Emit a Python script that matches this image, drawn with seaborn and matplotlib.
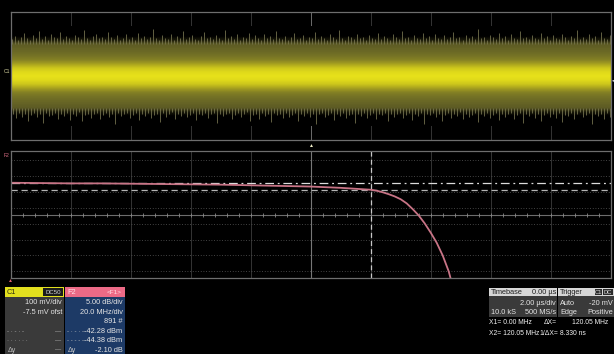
import numpy as np
import matplotlib
matplotlib.use("Agg")
import matplotlib.pyplot as plt
import seaborn as sns
from matplotlib.colors import LinearSegmentedColormap
from matplotlib.patches import Rectangle
from matplotlib.ticker import MultipleLocator

# ---------------- data ----------------
# C1 (time domain, 100 mV/div, 2 us/div): persistence brightness per 0.25 div, -3 .. +3 div
c1_band_profile = [0.0, 0.0, 0.0, 0.12, 0.42, 0.46, 0.5, 0.54, 0.6, 0.72, 0.88, 0.97, 1.0,
                   0.97, 0.88, 0.72, 0.6, 0.54, 0.5, 0.46, 0.42, 0.12, 0.0, 0.0, 0.0]
c1_upper_peaks_mv = [
    232, 251, 226, 244, 268, 238, 229, 257, 241, 284, 235, 249, 227, 262, 243, 236, 275, 231, 254, 240,
    228, 259, 245, 233, 290, 239, 226, 252, 266, 237, 243, 230, 279, 248, 234, 256, 229, 241, 263, 235,
    247, 227, 271, 238, 253, 231, 244, 296, 236, 229, 258, 242, 233, 267, 227, 250, 239, 282, 232, 245,
    260, 234, 228, 249, 274, 237, 243, 231, 255, 240, 227, 288, 236, 251, 233, 262, 229, 246, 238, 270,
    231, 256, 242, 228, 265, 237, 249, 230, 281, 239, 234, 253, 226, 244, 269, 235, 241, 258, 229, 247,
    236, 278, 232, 250, 240, 227, 263, 245, 233, 292, 238, 229, 254, 243, 231, 266, 237, 248, 228, 259,
    242, 230, 273, 235, 252, 239, 227, 261, 246, 233, 285, 236, 244, 229, 257, 240, 232, 270, 238, 249,
    228, 264, 241, 234, 255, 230, 247, 276, 236, 243, 229, 260, 237, 251, 232, 298, 239, 245, 227, 258,
    243, 231, 268, 238, 250, 229, 262, 241, 234, 280, 236, 247, 230, 256, 242, 233, 272, 237, 253, 228,
    259, 240, 232, 266, 245, 229, 251, 238, 287, 234, 243, 230, 261, 237, 249, 228, 274, 241, 235, 255]
c1_lower_peaks_mv = [
    240, 262, 231, 255, 236, 279, 244, 228, 258, 237, 293, 233, 248, 241, 229, 267, 238, 252, 230, 273,
    236, 249, 227, 284, 242, 234, 260, 239, 231, 271, 245, 229, 256, 237, 300, 233, 247, 240, 228, 264,
    243, 232, 277, 238, 251, 229, 262, 244, 235, 289, 231, 254, 240, 227, 268, 236, 249, 233, 258, 242,
    229, 275, 237, 246, 231, 263, 240, 228, 296, 235, 252, 239, 230, 270, 244, 233, 257, 238, 227, 282,
    241, 234, 266, 229, 250, 238, 286, 232, 245, 236, 261, 228, 254, 242, 231, 278, 237, 247, 230, 259,
    235, 302, 240, 229, 256, 244, 233, 272, 237, 249, 228, 265, 241, 234, 291, 236, 252, 230, 260, 243,
    231, 269, 238, 246, 229, 283, 235, 253, 240, 228, 262, 244, 232, 276, 237, 250, 229, 297, 239, 245,
    230, 258, 236, 281, 242, 231, 264, 239, 248, 227, 271, 234, 255, 241, 229, 288, 237, 251, 233, 262,
    244, 228, 274, 235, 257, 240, 232, 266, 246, 230, 293, 238, 249, 229, 260, 236, 279, 242, 231, 254,
    237, 263, 229, 285, 241, 250, 233, 270, 238, 227, 259, 245, 232, 298, 236, 248, 240, 267, 230, 256]

# F2 = FFT(F1) magnitude, 5 dB/div, 20 MHz/div
f2_freq_mhz = [0, 10, 20, 30, 40, 50, 60, 70, 80, 90, 100, 105, 110, 115, 120, 122, 124, 126,
               128, 130, 132, 134, 136, 138, 140, 142, 144, 146, 147]
f2_level_dbm = [-42.1, -42.2, -42.3, -42.3, -42.4, -42.5, -42.6, -42.7, -42.9, -43.1, -43.3, -43.5,
                -43.7, -44.0, -44.3, -44.6, -45.1, -45.7, -46.4, -47.3, -48.6, -50.4, -52.4,
                -54.9, -57.8, -61.0, -65.0, -70.0, -73.5]
cursor_levels_dbm = [-42.28, -44.38]
cursor_freqs_mhz = [0.0, 120.05]

# annotation texts
c1_header = ["C1", "DC50"]
c1_rows = ["100 mV/div", "-7.5 mV ofst"]
f2_header = ["F2", "<F1>"]
f2_rows = ["5.00 dB/div", "20.0 MHz/div", "891 #", "-42.28 dBm", "-44.38 dBm", "-2.10 dB"]
timebase_txt = ["Timebase", "0.00 µs", "2.00 µs/div", "10.0 kS", "500 MS/s"]
trigger_txt = ["Trigger", "C1", "DC", "Auto", "-20 mV", "Edge", "Positive"]
cursor_txt = ["X1= 0.00 MHz", "ΔX=", "120.05 MHz", "X2= 120.05 MHz", "1/ΔX=", "8.330 ns"]

# ---------------- style ----------------
sns.set_style("dark", {"axes.facecolor": "black", "figure.facecolor": "black"})
plt.rcParams['font.family'] = ['Liberation Sans', 'DejaVu Sans']

W, H = 614, 354
fig = plt.figure(figsize=(W / 100, H / 100), dpi=100)
fig.patch.set_facecolor("black")


def style_axes(ax, xmaj, ymaj):
    ax.set_facecolor("black")
    ax.xaxis.set_major_locator(MultipleLocator(xmaj))
    ax.yaxis.set_major_locator(MultipleLocator(ymaj))
    ax.tick_params(length=0, labelbottom=False, labelleft=False)
    ax.xaxis.grid(True, color="#3c3c3c", lw=0.6, ls="-", zorder=0.5)
    ax.yaxis.grid(True, color="#5a5a5a", lw=0.6, ls=(0, (1, 2.2)), zorder=0.5)
    ax.set_axisbelow(True)
    for s in ax.spines.values():
        s.set_color("#6e6e6e")
        s.set_linewidth(0.9)
        s.set_zorder(5)
    ax.set_xlabel("")
    ax.set_ylabel("")


# ---------------- top: C1 noise ----------------
ax1 = fig.add_axes([10.7 / W, 1 - 140 / H, 600 / W, 127.7 / H])
cmap = LinearSegmentedColormap.from_list(
    "scope", [(0, "#000000"), (0.2, "#2a2910"), (0.42, "#5c5a24"), (0.5, "#6c6a26"),
              (0.6, "#868224"), (0.75, "#b0aa1e"), (1.0, "#e6e01a")])
prof = np.array(c1_band_profile)
ax1.imshow(np.column_stack([prof, prof]), extent=[-10, 10, -312.5, 312.5], aspect="auto",
           cmap=cmap, vmin=0, vmax=1, interpolation="bilinear", zorder=1)
tu = np.linspace(-9.97, 9.97, len(c1_upper_peaks_mv))
tl = np.linspace(-9.94, 9.99, len(c1_lower_peaks_mv))
ax1.vlines(tu, 200, c1_upper_peaks_mv, colors="#7c7a54", lw=0.55, zorder=2)
ax1.vlines(tl, -200, -np.array(c1_lower_peaks_mv), colors="#7c7a54", lw=0.55, zorder=2)
ax1.set_xlim(-10, 10)
ax1.set_ylim(-400, 400)
style_axes(ax1, 2, 100)
ax1.axvline(0, color="#6a6a6a", lw=0.7, zorder=0.6)

# ---------------- bottom: F2 FFT ----------------
ax2 = fig.add_axes([10.7 / W, 1 - 278 / H, 600 / W, 127 / H])
ax2.set_xlim(0, 200)
ax2.set_ylim(-72.1, -32.1)
style_axes(ax2, 20, 5)
center_db = -52.1
ax2.axhline(center_db, color="#6c6c6c", lw=0.8, zorder=2)
ax2.axvline(100, color="#777777", lw=0.8, zorder=2)
ax2.plot(np.arange(0, 201, 4), np.full(51, center_db), ls="none", marker="|", ms=2.6,
         mew=0.6, color="#8a8a8a", zorder=2)
ax2.axhline(cursor_levels_dbm[0], color="#dcdcdc", lw=0.9, ls=(0, (7, 3, 1.5, 3)), zorder=3)
ax2.axhline(cursor_levels_dbm[1], color="#b4b4b4", lw=0.9, ls=(0, (5, 3)), zorder=3)
ax2.axvline(cursor_freqs_mhz[1], color="#c8c8c8", lw=0.9, ls=(0, (4, 2.5)), zorder=3)
sns.lineplot(x=f2_freq_mhz, y=f2_level_dbm, ax=ax2, color="#c87486", lw=1.3, zorder=4,
             estimator=None, sort=False)
ax2.set_xlabel("")
ax2.set_ylabel("")

# ---------------- overlay: readouts ----------------
ov = fig.add_axes([0, 0, 1, 1])
ov.set_xlim(0, W)
ov.set_ylim(H, 0)
ov.axis("off")
ov.patch.set_alpha(0)


def box(x0, y0, x1, y1, color):
    ov.add_patch(Rectangle((x0, y0), x1 - x0, y1 - y0, facecolor=color, edgecolor="none"))


def txt(x, y, s, color="#e4e4e4", ha="left", size=5.3):
    ov.text(x, y, s, color=color, ha=ha, va="center", fontsize=size)


# channel labels / markers
txt(3.5, 71.5, "C1", color="#d8d6a0", size=3.6)
txt(3.5, 155.5, "F2", color="#e07088", size=3.6)
txt(311, 145.5, "▲", color="#f0eec8", ha="center", size=3.6)
txt(10.5, 280.5, "▲", color="#e06070", ha="center", size=3.6)
txt(612.5, 80.5, "◄", color="#e0e0e0", ha="center", size=3.2)

# C1 box
box(5, 287, 63.5, 297, "#e2df1e")
box(43, 288.3, 63, 295.8, "#1c1c1c")
txt(7, 292.2, c1_header[0], color="#303010", size=5.3)
txt(53, 292.2, c1_header[1], color="#d8d8d8", ha="center", size=4.4)
box(5, 297, 63.5, 354, "#3a3a3a")
txt(62, 303, c1_rows[0], ha="right")
txt(62, 312, c1_rows[1], ha="right")
txt(7, 331.7, "- · - · -", color="#bdbdbd", size=4.4)
txt(7, 340.7, "· · · · · ·", color="#bdbdbd", size=4.4)
txt(8, 350, "Δy", color="#bdbdbd", size=5.0)
for yy in (331.7, 340.7, 350):
    txt(61, yy, "—", color="#bdbdbd", ha="right", size=4.4)

# F2 box
box(64.5, 287, 124.5, 297, "#ec6a86")
txt(67, 292.2, f2_header[0], color="#ffe0e6")
txt(114, 292.2, f2_header[1], color="#ffe0e6", ha="center", size=4.6)
box(64.5, 297, 124.5, 354, "#1d3a66")
for yy, s in zip((303, 312, 321.7, 331.7, 340.7, 350), f2_rows):
    txt(122.5, yy, s, ha="right")
txt(67, 331.7, "- · - · -", color="#c8c8c8", size=4.4)
txt(67, 340.7, "- - - - -", color="#c8c8c8", size=4.4)
txt(68, 350, "Δy", color="#c8c8c8", size=5.0)

# Timebase box
box(489, 288, 557, 296, "#d6d6d6")
txt(491, 292, timebase_txt[0], color="#1e1e1e")
txt(556, 292, timebase_txt[1], color="#1e1e1e", ha="right")
box(489, 296, 557, 317, "#3a3a3a")
txt(556, 303.5, timebase_txt[2], ha="right")
txt(491, 312.3, timebase_txt[3])
txt(556, 312.3, timebase_txt[4], ha="right")

# Trigger box
box(558, 288, 614, 296, "#d6d6d6")
txt(560, 292, trigger_txt[0], color="#1e1e1e")
box(594.5, 288.6, 602, 295.4, "#2a2a2a")
box(602.8, 288.6, 613, 295.4, "#2a2a2a")
txt(598.2, 292, trigger_txt[1], color="#e0e0e0", ha="center", size=4.2)
txt(607.9, 292, trigger_txt[2], color="#e0e0e0", ha="center", size=4.2)
box(558, 296, 614, 317, "#3a3a3a")
txt(560, 303.5, trigger_txt[3])
txt(613, 303.5, trigger_txt[4], ha="right")
txt(560, 312.3, trigger_txt[5])
txt(613, 312.3, trigger_txt[6], ha="right")

# cursor readouts
cs = 4.9
txt(489, 323, cursor_txt[0], color="#f0f0f0", size=cs)
txt(557, 323, cursor_txt[1], color="#f0f0f0", ha="right", size=cs)
txt(608, 323, cursor_txt[2], color="#f0f0f0", ha="right", size=cs)
txt(489, 333.3, cursor_txt[3], color="#f0f0f0", size=cs)
txt(558, 333.3, cursor_txt[4], color="#f0f0f0", ha="right", size=cs)
txt(560, 333.3, cursor_txt[5], color="#f0f0f0", size=cs)

fig.savefig("out.png", dpi=100, facecolor="black")
